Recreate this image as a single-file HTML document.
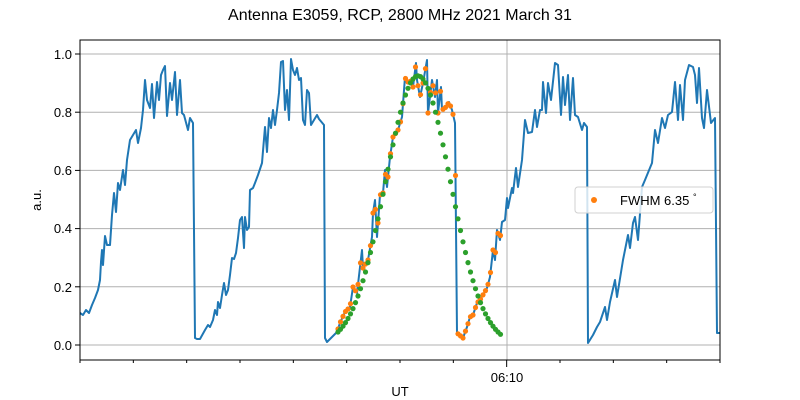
<!DOCTYPE html>
<html><head><meta charset="utf-8"><style>
html,body{margin:0;padding:0;background:#fff;}
svg{display:block;font-family:"Liberation Sans","DejaVu Sans",sans-serif;}
</style></head><body>
<svg id="s" width="800" height="400" xmlns="http://www.w3.org/2000/svg">
<rect width="800" height="400" fill="#fff"/>
<text x="400" y="20" font-size="16" text-anchor="middle">Antenna E3059, RCP, 2800 MHz 2021 March 31</text>
<g stroke="#b0b0b0" stroke-width="1">
<line x1="80" x2="720" y1="345" y2="345"/><line x1="80" x2="720" y1="286.8" y2="286.8"/>
<line x1="80" x2="720" y1="228.6" y2="228.6"/><line x1="80" x2="720" y1="170.4" y2="170.4"/>
<line x1="80" x2="720" y1="112.2" y2="112.2"/><line x1="80" x2="720" y1="54" y2="54"/>
<line x1="507" x2="507" y1="40" y2="360"/>
</g>
<g font-size="13" text-anchor="end">
<text x="72" y="350">0.0</text><text x="72" y="292">0.2</text><text x="72" y="233">0.4</text>
<text x="72" y="175">0.6</text><text x="72" y="117">0.8</text><text x="72" y="59">1.0</text>
</g>
<g stroke="#000" stroke-width="1" id="ticks">
<line x1="75" x2="80" y1="345" y2="345"/><line x1="75" x2="80" y1="286.8" y2="286.8"/>
<line x1="75" x2="80" y1="228.6" y2="228.6"/><line x1="75" x2="80" y1="170.4" y2="170.4"/>
<line x1="75" x2="80" y1="112.2" y2="112.2"/><line x1="75" x2="80" y1="54" y2="54"/>
</g>
<text x="507" y="382" font-size="13" text-anchor="middle">06:10</text>
<text x="400" y="400" font-size="13" text-anchor="middle" dy="-4">UT</text>
<text x="0" y="0" font-size="13" text-anchor="middle" transform="translate(41,200) rotate(-90)">a.u.</text>
<polyline id="blue" fill="none" stroke="#1f77b4" stroke-width="2" stroke-linejoin="round" points=""/>
<g id="dots"></g>
<rect x="80" y="40" width="640" height="320" fill="none" stroke="#000" stroke-width="1"/>
<rect x="575" y="187" width="138" height="26" rx="3" fill="#fff" fill-opacity="0.8" stroke="#d0d0d0"/>
<circle cx="594" cy="200" r="3" fill="#ff7f0e"/>
<text x="620" y="205" font-size="13">FWHM 6.35 <tspan font-size="9" dy="-5">°</tspan></text>
</svg>
<script>
var P=[[80,313],[83,315],[86,310],[89,313],[92,305],[95,298],[98,290],[100,280],[101,262],[102,250],[103,265],[105,236],[107,245],[110,245],[112,215],[114,193],[116,212],[118,183],[120,190],[123,170],[125,185],[127,160],[130,140],[133,135],[136,130],[138,143],[141,128],[143,110],[145,80],[147,100],[150,108],[152,84],[154,118],[157,82],[159,100],[161,75],[163,70],[165,66],[167,116],[170,83],[172,100],[175,72],[177,115],[180,80],[182,113],[184,115],[188,130],[190,118],[193,123],[195,338],[197,339],[200,339],[205,330],[208,325],[210,327],[213,320],[215,310],[217,315],[218,302],[220,308],[222,295],[224,283],[226,295],[228,290],[230,275],[232,258],[234,259],[236,253],[238,238],[240,220],[242,217],[244,248],[245,217],[247,230],[249,227],[250,190],[253,188],[255,183],[258,175],[262,163],[265,127],[267,152],[269,118],[271,128],[273,110],[275,125],[277,110],[279,93],[281,62],[283,61],[285,110],[287,90],[289,120],[291,59],[293,70],[295,75],[297,68],[299,80],[301,78],[303,120],[305,125],[307,90],[309,93],[311,125],[314,120],[317,115],[319,119],[324,125],
[325,338],[327,342],[337,332],[340,323],[345,312],[350,307],[353,287],[357,293],[362,250],[363,268],[368,260],[372,237],[373,213],[375,200],[377,237],[380,195],[383,193],[385,170],[387,187],[390,157],[393,137],[398,130],[402,117],[405,77],[407,83],[410,80],[413,87],[416,63],[417,80],[420,97],[423,83],[427,60],[428,113],[432,80],[435,97],[437,80],[438,113],[441,87],[442,110],[446,107],[449,102],[452,110],[455,123],[457,333],[463,338],[467,327],[470,317],[473,315],[477,303],[480,300],[487,288],[490,277],[493,250],[495,260],[497,230],[500,240],[502,222],[505,220],[507,198],[508,208],[512,188],[513,193],[516,168],[518,187],[522,160],[525,120],[528,133],[532,132],[535,110],[537,127],[540,110],[542,110],[543,82],[546,113],[548,83],[551,100],[555,63],[558,65],[561,115],[563,77],[565,105],[568,75],[570,120],[573,78],[575,115],[578,117],[582,130],[584,123],[587,127],[588,343],[593,335],[597,327],[600,322],[605,307],[607,320],[610,302],[615,280],[617,297],[623,260],[628,235],[630,248],[633,223],[635,217],[638,240],[642,187],[645,180],[652,163],[655,130],[658,143],[662,118],[665,128],[668,115],[672,112],[675,82],[678,120],[680,85],[683,120],[685,80],[689,65],[693,67],[695,75],[697,103],[699,68],[702,118],[704,128],[707,90],[711,123],[715,118],[717,333],[720,333]];
document.getElementById('blue').setAttribute('points',P.map(function(p){return p.join(',')}).join(' '));
function interp(x){for(var i=1;i<P.length;i++){if(P[i][0]>=x){var a=P[i-1],b=P[i];var t=(x-a[0])/((b[0]-a[0])||1);return a[1]+t*(b[1]-a[1]);}}return 335;}
var g=document.getElementById('dots');
var og='',gg='';
for(var x=338;x<=500.5;x+=2.5){
 og+='<circle cx="'+x+'" cy="'+interp(x).toFixed(1)+'" r="2.6" fill="#ff7f0e"/>';
 var v=0.925*Math.exp(-Math.pow(x-418,2)/(2*32.5*32.5));
 gg+='<circle cx="'+x+'" cy="'+(345-291*v).toFixed(1)+'" r="2.6" fill="#2ca02c"/>';
}
g.innerHTML=og+gg;
var tk='';
for(var i=0;i<=12;i++){var tx=80+i*53.333;tk+='<line x1="'+tx+'" x2="'+tx+'" y1="360" y2="'+(i==8?367:363)+'"/>';}
document.getElementById('ticks').innerHTML+=tk;
</script>
</body></html>
